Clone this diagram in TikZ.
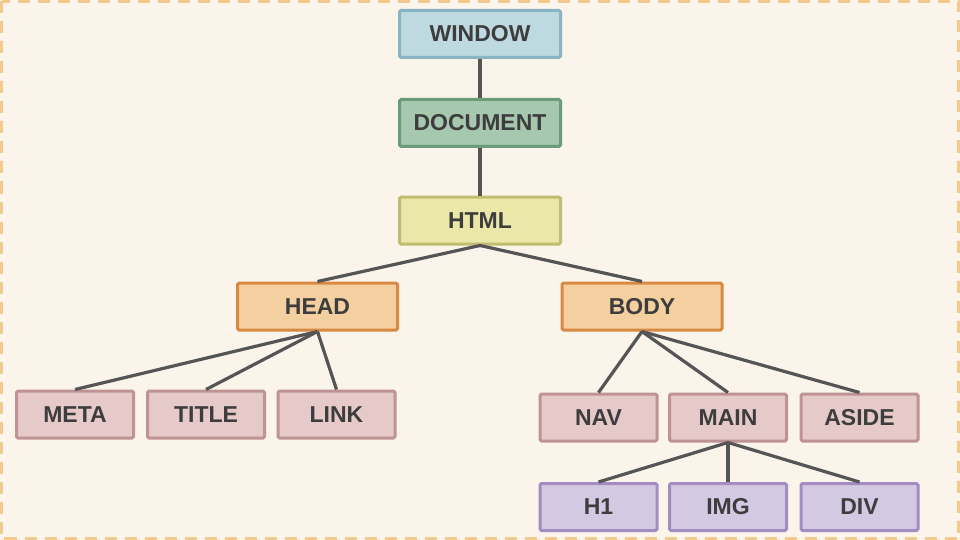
\documentclass[tikz,border=0pt]{standalone}
\usepackage{fontspec}
\setmainfont{Liberation Sans}
\definecolor{bg}{HTML}{FAF4EB}
\definecolor{frame}{HTML}{F2C98E}
\definecolor{edge}{HTML}{555555}
\definecolor{txt}{HTML}{3D3D3D}
\definecolor{winF}{HTML}{BFD9E0}\definecolor{winD}{HTML}{8AB4C4}
\definecolor{docF}{HTML}{A6C8AE}\definecolor{docD}{HTML}{6B9C7A}
\definecolor{htmF}{HTML}{EAE7A8}\definecolor{htmD}{HTML}{C1BD70}
\definecolor{hbF}{HTML}{F4CFA0}\definecolor{hbD}{HTML}{D88A42}
\definecolor{elF}{HTML}{E6C9C9}\definecolor{elD}{HTML}{BF9393}
\definecolor{lfF}{HTML}{D4C9E3}\definecolor{lfD}{HTML}{A28CC2}
\begin{document}
\begin{tikzpicture}[x=1pt,y=-1pt,
  box/.style={draw, line width=3pt, rectangle, rounded corners=1.5pt, inner sep=0pt, text=txt,
    font=\fontsize{23}{25}\selectfont\bfseries},
  wide/.style={box, minimum width=161pt, minimum height=47pt},
  mid/.style={box, minimum width=160pt, minimum height=47pt},
  leaf/.style={box, minimum width=117pt, minimum height=47pt},
  conn/.style={draw=edge, line width=3.2pt}]
\fill[bg] (0,0) rectangle (960,540);
\draw[frame, line width=2.5pt, dash pattern=on 12pt off 8pt] (1.5,1.5) rectangle (958.5,538.5);
\node[wide, fill=winF, draw=winD] (win) at (480,34) {WINDOW};
\node[wide, fill=docF, draw=docD] (doc) at (480,123) {DOCUMENT};
\node[wide, fill=htmF, draw=htmD] (html) at (480,220.5) {HTML};
\node[mid, fill=hbF, draw=hbD] (head) at (317.5,306.5) {HEAD};
\node[mid, fill=hbF, draw=hbD] (body) at (642,306.5) {BODY};
\node[leaf, fill=elF, draw=elD] (meta) at (75,414.5) {META};
\node[leaf, fill=elF, draw=elD] (title) at (206,414.5) {TITLE};
\node[leaf, fill=elF, draw=elD] (link) at (336.5,414.5) {LINK};
\node[leaf, fill=elF, draw=elD] (nav) at (598.5,417.5) {NAV};
\node[leaf, fill=elF, draw=elD] (main) at (728,417.5) {MAIN};
\node[leaf, fill=elF, draw=elD] (aside) at (859.5,417.5) {ASIDE};
\node[leaf, fill=lfF, draw=lfD] (h1) at (598.5,507) {H1};
\node[leaf, fill=lfF, draw=lfD] (img) at (728,507) {IMG};
\node[leaf, fill=lfF, draw=lfD] (div) at (859.5,507) {DIV};
\draw[conn] (win.south) -- (doc.north);
\draw[conn] (doc.south) -- (html.north);
\draw[conn] (html.south) -- (head.north);
\draw[conn] (html.south) -- (body.north);
\draw[conn] (head.south) -- (meta.north);
\draw[conn] (head.south) -- (title.north);
\draw[conn] (head.south) -- (link.north);
\draw[conn] (body.south) -- (nav.north);
\draw[conn] (body.south) -- (main.north);
\draw[conn] (body.south) -- (aside.north);
\draw[conn] (main.south) -- (h1.north);
\draw[conn] (main.south) -- (img.north);
\draw[conn] (main.south) -- (div.north);
\end{tikzpicture}
\end{document}
